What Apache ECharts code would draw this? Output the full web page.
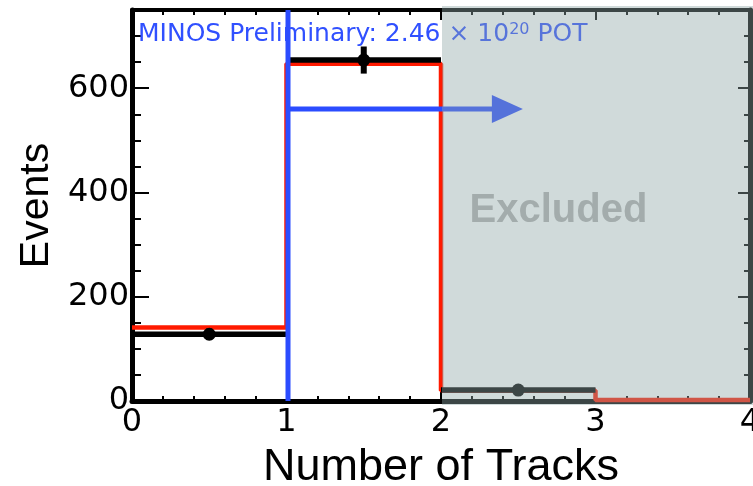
<!DOCTYPE html>
<html><head><meta charset="utf-8">
<script src="https://cdn.jsdelivr.net/npm/echarts@6/dist/echarts.min.js"></script>
<style>html,body{margin:0;padding:0;background:#fff;overflow:hidden}#chart{width:753px;height:486px}</style>
</head><body><div id="chart"></div>
<script>
// ---- data ----
const binEdges = [0, 1, 2, 3, 4];
const mcCounts = [141, 647, 20, 2];
const dataCounts = [128, 654, 21];
const dataErrors = [11, 26, 4.6];
const cutValue = 1;
const arrowLevel = 560;
const arrowTip = 2.53;
const excludedRange = [2, 4];
const xTickLabels = ['0', '1', '2', '3', '4'];
const yTickLabels = ['0', '200', '400', '600'];
const yMax = 750;

const chart = echarts.init(document.getElementById('chart'), null, {renderer: 'canvas'});

const BLACK = '#000';
const BLUE_TEXT = '#3050ff';
const tickFont = 'DejaVu Sans';

function xAxisDef(pos, isMain) {
  return {
    type: 'value', position: pos, min: 0, max: 4, interval: 1,
    axisLine: {show: true, onZero: false, lineStyle: {color: BLACK, width: isMain ? 5 : 4}},
    axisTick: {show: true, inside: true, length: 10, lineStyle: {color: BLACK, width: 2}},
    minorTick: {show: true, splitNumber: 5, length: 5, lineStyle: {color: BLACK, width: 2}},
    axisLabel: isMain ? {show: true, fontFamily: tickFont, fontSize: 32, color: BLACK, margin: 6,
      formatter: v => xTickLabels.indexOf(String(v)) >= 0 ? String(v) : ''} : {show: false},
    splitLine: {show: false}, minorSplitLine: {show: false},
    name: isMain ? 'Number of Tracks' : '', nameLocation: 'middle', nameGap: 44,
    nameTextStyle: {fontFamily: 'Liberation Sans', fontSize: 45, color: BLACK}
  };
}
function yAxisDef(pos, step, tickLen, withLabels, withLine) {
  return {
    type: 'value', position: pos, min: 0, max: yMax, interval: step,
    axisLine: {show: withLine, onZero: false, lineStyle: {color: BLACK, width: 5}},
    axisTick: {show: true, inside: true, length: tickLen, lineStyle: {color: BLACK, width: 2}},
    axisLabel: withLabels ? {show: true, fontFamily: tickFont, fontSize: 32, color: BLACK, margin: 3,
      showMaxLabel: false,
      formatter: v => yTickLabels.indexOf(String(v)) >= 0 ? String(v) : ''} : {show: false},
    splitLine: {show: false},
    name: withLabels ? 'Events' : '', nameLocation: 'middle', nameGap: 66,
    nameTextStyle: {fontFamily: 'Liberation Sans', fontSize: 41, color: BLACK}
  };
}

const mcLine = binEdges.map((e, i) => [e, mcCounts[Math.min(i, mcCounts.length - 1)]]);
const dataItems = dataCounts.map((v, i) => [binEdges[i], binEdges[i + 1], v, dataErrors[i]]);

function renderData(params, api) {
  const lo = api.value(0), hi = api.value(1), v = api.value(2), e = api.value(3);
  const mid = (lo + hi) / 2;
  const pL = api.coord([lo, v]), pR = api.coord([hi, v]);
  const pT = api.coord([mid, v + e]), pB = api.coord([mid, v - e]);
  return {type: 'group', children: [
    {type: 'line', shape: {x1: pL[0], y1: pL[1], x2: pR[0], y2: pR[1]}, style: {stroke: BLACK, lineWidth: 5.5}},
    {type: 'line', shape: {x1: pT[0], y1: pT[1], x2: pB[0], y2: pB[1]}, style: {stroke: BLACK, lineWidth: 6}},
    {type: 'circle', shape: {cx: pL[0] + (pR[0] - pL[0]) / 2, cy: pL[1], r: 6.5}, style: {fill: BLACK}}
  ]};
}

function renderCut(params, api) {
  const c = api.value(0), lvl = api.value(1), tip = api.value(2);
  const pBot = api.coord([c, 0]), pTop = api.coord([c, yMax]);
  const pA = api.coord([c, lvl]), pTip = api.coord([tip, lvl]);
  const headLen = 31, headHalf = 14;
  const blue = '#2b4cff';
  return {type: 'group', children: [
    {type: 'line', shape: {x1: pA[0], y1: pA[1], x2: pTip[0] - headLen + 2, y2: pA[1]}, style: {stroke: blue, lineWidth: 5}},
    {type: 'polygon', shape: {points: [[pTip[0], pTip[1]], [pTip[0] - headLen, pTip[1] - headHalf], [pTip[0] - headLen, pTip[1] + headHalf]]}, style: {fill: blue}},
    {type: 'line', shape: {x1: pBot[0] + 1.5, y1: pBot[1], x2: pTop[0] + 1.5, y2: pTop[1]}, style: {stroke: blue, lineWidth: 5}}
  ]};
}

function renderExcluded(params, api) {
  const a = api.value(0), b = api.value(1);
  const p0 = api.coord([a, yMax]), p1 = api.coord([b, 0]);
  const cx = api.coord([a + (b - a) * 0.38, 0])[0];
  const cy = api.coord([a, yMax * 0.485])[1];
  return {type: 'group', children: [
    {type: 'rect', shape: {x: p0[0] + 1, y: p0[1] - 4, width: p1[0] - p0[0] + 6, height: p1[1] - p0[1] + 8},
      style: {fill: 'rgba(143,167,167,0.42)'}},
    {type: 'text', x: cx, y: cy, z2: 10, style: {text: 'Excluded', fill: '#a3acac',
      font: 'bold 40px "Liberation Sans"', textAlign: 'center', textVerticalAlign: 'middle'}}
  ]};
}

const option = {
  animation: false,
  backgroundColor: '#fff',
  grid: {left: 132, right: 3, top: 10, bottom: 85, containLabel: false, outerBoundsMode: 'none'},
  xAxis: [xAxisDef('bottom', true), xAxisDef('top', false)],
  yAxis: [
    yAxisDef('left', 200, 17, true, true),
    yAxisDef('left', 50, 9, false, false),
    yAxisDef('right', 200, 12, false, true),
    yAxisDef('right', 50, 6, false, false)
  ],
  graphic: {elements: [{
    type: 'text', x: 138, y: 34, z: 1,
    style: {
      text: '{a|MINOS Preliminary: 2.46 × 10}{s|20}{a| POT}',
      textVerticalAlign: 'middle',
      fill: BLUE_TEXT,
      rich: {
        a: {fontFamily: tickFont, fontSize: 25, lineHeight: 25, fill: BLUE_TEXT},
        s: {fontFamily: tickFont, fontSize: 16, lineHeight: 8, fill: BLUE_TEXT, verticalAlign: 'top'}
      }
    }
  }]},
  series: [
    {type: 'line', name: 'MC', xAxisIndex: 0, yAxisIndex: 0, step: 'end', data: mcLine,
      symbol: 'none', clip: false, z: 3, lineStyle: {color: '#ff1a00', width: 4.5}},
    {type: 'custom', name: 'Data', xAxisIndex: 0, yAxisIndex: 0, data: dataItems,
      encode: {x: [0, 1], y: [2]}, renderItem: renderData, clip: false, z: 4},
    {type: 'custom', name: 'Cut', xAxisIndex: 0, yAxisIndex: 0, data: [[cutValue, arrowLevel, arrowTip]],
      encode: {x: [0, 2], y: [1]}, renderItem: renderCut, clip: false, z: 5},
    {type: 'custom', name: 'Excluded', xAxisIndex: 0, yAxisIndex: 0, data: [excludedRange],
      encode: {x: [0, 1]}, renderItem: renderExcluded, clip: false, z: 10, silent: true}
  ]
};
chart.setOption(option);
</script>
</body></html>
